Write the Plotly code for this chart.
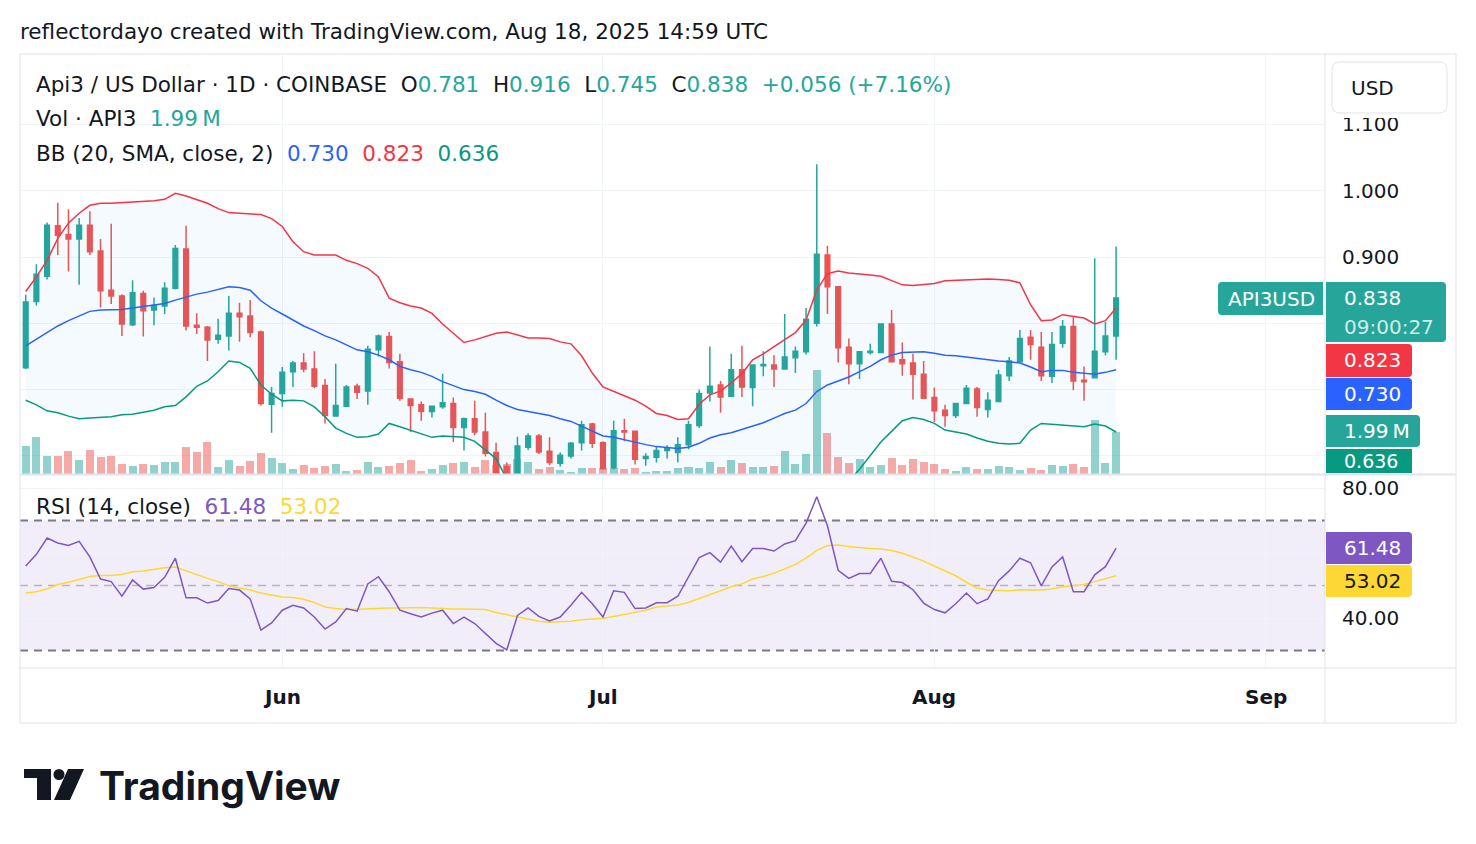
import plotly.graph_objects as go
import pandas as pd

W, H = 1476, 844
FONT = "DejaVu Sans"
TXT = "#131722"
UP, DN = "#26a69a", "#ef5350"

# ---------------- data ----------------
dates = pd.date_range("2025-05-08", "2025-08-18", freq="D").strftime("%Y-%m-%d").tolist()

opens = [0.733, 0.833, 0.871, 0.947, 0.934, 0.927, 0.948, 0.909, 0.850, 0.841,
         0.798, 0.845, 0.820, 0.826, 0.853, 0.912, 0.797, 0.794, 0.776, 0.781,
         0.815, 0.811, 0.787, 0.678, 0.694, 0.727, 0.740, 0.731, 0.706, 0.660,
         0.675, 0.705, 0.698, 0.760, 0.780, 0.742, 0.686, 0.677, 0.667, 0.674,
         0.679, 0.643, 0.656, 0.636, 0.605, 0.584, 0.566, 0.613, 0.630, 0.607,
         0.589, 0.600, 0.620, 0.648, 0.620, 0.582, 0.638, 0.637, 0.596, 0.598,
         0.608, 0.605, 0.617, 0.646, 0.695, 0.707, 0.690, 0.730, 0.703, 0.736,
         0.737, 0.731, 0.748, 0.757, 0.800, 0.903, 0.855, 0.764, 0.739, 0.756,
         0.756, 0.799, 0.745, 0.740, 0.723, 0.688, 0.669, 0.661, 0.679, 0.701,
         0.670, 0.682, 0.721, 0.742, 0.779, 0.764, 0.720, 0.770, 0.795, 0.714,
         0.718, 0.757, 0.781]
highs = [0.843, 0.889, 0.952, 0.982, 0.972, 0.959, 0.969, 0.927, 0.950, 0.844,
         0.865, 0.849, 0.839, 0.862, 0.918, 0.947, 0.815, 0.796, 0.807, 0.841,
         0.831, 0.835, 0.789, 0.704, 0.734, 0.743, 0.755, 0.758, 0.716, 0.739,
         0.707, 0.709, 0.766, 0.783, 0.787, 0.754, 0.687, 0.682, 0.676, 0.724,
         0.688, 0.658, 0.683, 0.665, 0.620, 0.590, 0.629, 0.634, 0.633, 0.628,
         0.605, 0.621, 0.653, 0.650, 0.622, 0.653, 0.656, 0.638, 0.604, 0.614,
         0.616, 0.628, 0.653, 0.700, 0.765, 0.713, 0.754, 0.766, 0.737, 0.758,
         0.752, 0.814, 0.765, 0.823, 1.040, 0.917, 0.856, 0.777, 0.758, 0.769,
         0.799, 0.820, 0.771, 0.754, 0.743, 0.703, 0.677, 0.680, 0.707, 0.704,
         0.696, 0.730, 0.749, 0.790, 0.790, 0.787, 0.787, 0.805, 0.809, 0.735,
         0.898, 0.802, 0.916]
lows = [0.731, 0.827, 0.866, 0.903, 0.878, 0.858, 0.903, 0.824, 0.829, 0.781,
        0.796, 0.780, 0.797, 0.814, 0.851, 0.789, 0.784, 0.743, 0.769, 0.759,
        0.772, 0.779, 0.676, 0.635, 0.674, 0.704, 0.726, 0.702, 0.649, 0.659,
        0.674, 0.686, 0.677, 0.750, 0.732, 0.683, 0.636, 0.653, 0.658, 0.671,
        0.621, 0.608, 0.631, 0.599, 0.572, 0.556, 0.560, 0.609, 0.603, 0.586,
        0.584, 0.596, 0.608, 0.612, 0.579, 0.580, 0.622, 0.587, 0.585, 0.590,
        0.596, 0.590, 0.610, 0.642, 0.682, 0.665, 0.689, 0.689, 0.675, 0.720,
        0.704, 0.730, 0.725, 0.753, 0.795, 0.814, 0.741, 0.708, 0.716, 0.753,
        0.755, 0.742, 0.721, 0.685, 0.686, 0.651, 0.644, 0.657, 0.678, 0.659,
        0.658, 0.681, 0.713, 0.742, 0.745, 0.713, 0.710, 0.763, 0.699, 0.683,
        0.717, 0.752, 0.745]
closes = [0.832, 0.874, 0.948, 0.933, 0.927, 0.948, 0.908, 0.849, 0.841, 0.799,
          0.846, 0.819, 0.827, 0.853, 0.913, 0.796, 0.794, 0.775, 0.782, 0.815,
          0.810, 0.786, 0.679, 0.694, 0.726, 0.740, 0.731, 0.705, 0.661, 0.676,
          0.704, 0.696, 0.761, 0.781, 0.741, 0.687, 0.676, 0.667, 0.675, 0.680,
          0.643, 0.656, 0.636, 0.604, 0.575, 0.566, 0.615, 0.630, 0.606, 0.590,
          0.601, 0.619, 0.647, 0.619, 0.581, 0.638, 0.636, 0.595, 0.599, 0.608,
          0.612, 0.617, 0.647, 0.694, 0.705, 0.689, 0.730, 0.704, 0.737, 0.738,
          0.731, 0.749, 0.758, 0.806, 0.904, 0.855, 0.763, 0.739, 0.757, 0.758,
          0.799, 0.742, 0.739, 0.723, 0.687, 0.668, 0.661, 0.679, 0.702, 0.673,
          0.684, 0.722, 0.743, 0.777, 0.768, 0.721, 0.768, 0.795, 0.713, 0.712,
          0.758, 0.781, 0.838]
volume_m = [1.32, 1.78, 0.87, 0.87, 1.11, 0.68, 1.16, 0.80, 0.87, 0.49,
            0.40, 0.49, 0.44, 0.59, 0.59, 1.30, 1.06, 1.54, 0.35, 0.68,
            0.40, 0.64, 1.02, 0.78, 0.54, 0.25, 0.44, 0.30, 0.40, 0.49,
            0.16, 0.21, 0.59, 0.35, 0.40, 0.54, 0.68, 0.16, 0.25, 0.44,
            0.54, 0.59, 0.35, 0.68, 0.44, 0.49, 0.73, 0.59, 0.25, 0.35,
            0.21, 0.11, 0.30, 0.30, 0.30, 0.30, 0.25, 0.30, 0.11, 0.16,
            0.16, 0.30, 0.35, 0.30, 0.59, 0.35, 0.68, 0.54, 0.35, 0.35,
            0.40, 1.11, 0.49, 0.97, 4.98, 1.97, 0.83, 0.54, 0.73, 0.35,
            0.44, 0.78, 0.44, 0.73, 0.59, 0.49, 0.22, 0.13, 0.32, 0.22,
            0.22, 0.37, 0.32, 0.18, 0.27, 0.18, 0.41, 0.37, 0.46, 0.32,
            2.56, 0.51, 1.99]
bb_upper = [0.848, 0.870, 0.895, 0.928, 0.951, 0.966, 0.978, 0.981, 0.981, 0.982,
            0.983, 0.983, 0.985, 0.987, 0.996, 0.992, 0.987, 0.981, 0.973, 0.967,
            0.966, 0.965, 0.964, 0.958, 0.946, 0.923, 0.908, 0.903, 0.903, 0.903,
            0.895, 0.890, 0.883, 0.870, 0.838, 0.831, 0.826, 0.823, 0.815, 0.799,
            0.785, 0.771, 0.775, 0.780, 0.785, 0.787, 0.782, 0.778, 0.778, 0.777,
            0.772, 0.769, 0.751, 0.725, 0.704, 0.697, 0.690, 0.684, 0.675, 0.664,
            0.661, 0.655, 0.656, 0.678, 0.692, 0.698, 0.710, 0.724, 0.745, 0.754,
            0.765, 0.776, 0.786, 0.805, 0.850, 0.875, 0.879, 0.876, 0.875, 0.873,
            0.871, 0.865, 0.858, 0.857, 0.858, 0.860, 0.864, 0.865, 0.866, 0.867,
            0.867, 0.866, 0.865, 0.861, 0.828, 0.804, 0.805, 0.813, 0.811, 0.808,
            0.799, 0.804, 0.823]
bb_basis = [0.766, 0.776, 0.785, 0.796, 0.804, 0.811, 0.818, 0.820, 0.820, 0.821,
            0.823, 0.825, 0.827, 0.830, 0.835, 0.840, 0.844, 0.847, 0.851, 0.855,
            0.854, 0.850, 0.834, 0.823, 0.814, 0.805, 0.796, 0.789, 0.781, 0.775,
            0.767, 0.760, 0.757, 0.752, 0.745, 0.735, 0.730, 0.726, 0.720, 0.712,
            0.706, 0.700, 0.697, 0.693, 0.684, 0.676, 0.670, 0.667, 0.664, 0.661,
            0.656, 0.652, 0.645, 0.638, 0.630, 0.628, 0.624, 0.621, 0.617, 0.614,
            0.612, 0.611, 0.613, 0.619, 0.627, 0.632, 0.635, 0.640, 0.644, 0.650,
            0.657, 0.664, 0.669, 0.679, 0.697, 0.707, 0.713, 0.719, 0.727, 0.735,
            0.745, 0.752, 0.756, 0.757, 0.757, 0.755, 0.752, 0.751, 0.749, 0.747,
            0.744, 0.743, 0.742, 0.740, 0.734, 0.727, 0.729, 0.729, 0.726, 0.725,
            0.723, 0.726, 0.730]
bb_lower = [0.684, 0.677, 0.668, 0.665, 0.660, 0.656, 0.657, 0.658, 0.659, 0.662,
            0.663, 0.666, 0.669, 0.674, 0.676, 0.689, 0.705, 0.713, 0.727, 0.743,
            0.741, 0.732, 0.707, 0.693, 0.683, 0.684, 0.683, 0.674, 0.659, 0.642,
            0.634, 0.628, 0.629, 0.633, 0.649, 0.644, 0.639, 0.633, 0.628, 0.630,
            0.629, 0.628, 0.622, 0.609, 0.596, 0.565, 0.558, 0.556, 0.550, 0.545,
            0.540, 0.535, 0.539, 0.551, 0.556, 0.559, 0.558, 0.558, 0.559, 0.564,
            0.563, 0.567, 0.570, 0.560, 0.562, 0.566, 0.560, 0.556, 0.543, 0.546,
            0.549, 0.552, 0.552, 0.553, 0.544, 0.539, 0.547, 0.562, 0.580, 0.601,
            0.621, 0.637, 0.653, 0.658, 0.655, 0.649, 0.639, 0.636, 0.633, 0.627,
            0.622, 0.619, 0.618, 0.619, 0.639, 0.649, 0.648, 0.647, 0.645, 0.644,
            0.648, 0.645, 0.636]
rsi = [56.0, 59.6, 64.6, 63.1, 62.3, 63.6, 58.8, 52.0, 51.2, 46.7,
       51.7, 48.9, 49.4, 52.5, 58.4, 46.2, 46.2, 44.6, 45.4, 49.1,
       48.6, 45.9, 36.3, 38.5, 42.4, 43.9, 43.1, 40.3, 36.6, 38.8,
       42.9, 42.1, 50.5, 52.7, 48.1, 42.4, 41.3, 40.3, 41.5, 42.4,
       38.3, 40.3, 38.3, 35.3, 32.2, 30.2, 40.8, 43.1, 40.5, 39.1,
       40.3, 43.9, 47.9, 44.4, 40.3, 48.4, 47.9, 42.9, 43.1, 44.7,
       44.7, 46.7, 52.5, 58.6, 60.1, 57.2, 62.1, 57.3, 61.4, 61.4,
       60.6, 62.8, 63.8, 69.2, 77.3, 68.4, 54.7, 52.2, 53.7, 53.7,
       58.4, 51.3, 50.9, 48.7, 44.6, 42.6, 41.6, 44.4, 47.7, 44.4,
       45.9, 51.5, 54.5, 58.4, 57.0, 49.9, 55.7, 58.8, 48.1, 48.1,
       53.3, 55.8, 61.48]
rsi_ma = [47.7, 48.1, 48.9, 50.3, 51.0, 52.0, 52.8, 53.1, 53.1, 53.4,
          54.2, 54.5, 55.0, 55.5, 55.7, 54.5, 53.2, 52.2, 51.2, 49.9,
          49.2, 48.6, 47.7, 47.1, 46.5, 46.3, 45.8, 44.8, 43.4, 42.9,
          42.6, 42.7, 42.9, 43.1, 43.1, 43.1, 43.2, 43.2, 43.1, 42.9,
          42.8, 42.8, 42.8, 42.6, 41.7, 41.0, 40.3, 39.5, 39.0, 38.7,
          38.8, 39.0, 39.5, 39.7, 39.9, 40.5, 41.1, 41.7, 42.4, 43.4,
          43.7, 44.0, 44.8, 46.0, 47.4, 48.6, 49.6, 50.5, 52.0, 52.8,
          53.8, 55.1, 56.5, 58.4, 60.8, 62.3, 62.5, 62.0, 61.6, 61.4,
          61.2, 60.8, 59.9, 58.8, 57.5, 56.0, 54.5, 53.0, 51.0, 49.2,
          48.6, 48.4, 48.4, 48.7, 48.7, 48.6, 48.9, 49.6, 49.9, 50.3,
          51.2, 52.0, 53.02]

month_ticks = ["2025-06-01", "2025-07-01", "2025-08-01", "2025-09-01"]
month_labels = ["Jun", "Jul", "Aug", "Sep"]
price_ticks = [0.6, 0.7, 0.8, 0.9, 1.0, 1.1]
price_tick_text = ["", "", "", "0.900", "1.000", "1.100"]
rsi_ticks = [40, 60, 80]
rsi_tick_text = ["40.00", "", "80.00"]

# ---------------- layout geometry (pixels) ----------------
def px(x):
    return x / W

def py(y):
    return 1 - y / H

PL, PR = 20, 1325          # plot left / right
P_TOP, P_BOT = 54, 474     # price pane
R_TOP, R_BOT = 474, 668    # rsi pane
X_RANGE = ["2025-05-07 11:12", "2025-09-06 13:00"]
PRICE_RANGE = [0.5727, 1.2062]
VOL_RANGE = [0, 20.04]
RSI_RANGE = [24.62, 84.31]

vol_colors = ["rgba(38,166,154,0.5)" if c >= o else "rgba(239,83,80,0.5)"
              for o, c in zip(opens, closes)]

fig = go.Figure()

# volume (base axis y, drawn underneath)
fig.add_trace(go.Bar(x=dates, y=volume_m, marker=dict(color=vol_colors, line=dict(width=0)),
                     width=0.75 * 86400000, xaxis="x", yaxis="y", hoverinfo="skip",
                     showlegend=False))

# Bollinger bands (price axis y3)
fig.add_trace(go.Scatter(x=dates, y=bb_upper, mode="lines", line=dict(color="#F23645", width=1.5),
                         xaxis="x", yaxis="y3", hoverinfo="skip", showlegend=False))
fig.add_trace(go.Scatter(x=dates, y=bb_lower, mode="lines", line=dict(color="#089981", width=1.5),
                         fill="tonexty", fillcolor="rgba(33,150,243,0.05)",
                         xaxis="x", yaxis="y3", hoverinfo="skip", showlegend=False))
fig.add_trace(go.Scatter(x=dates, y=bb_basis, mode="lines", line=dict(color="#2962FF", width=1.5),
                         xaxis="x", yaxis="y3", hoverinfo="skip", showlegend=False))

# candles
fig.add_trace(go.Candlestick(x=dates, open=opens, high=highs, low=lows, close=closes,
                             increasing=dict(line=dict(color=UP, width=1.5), fillcolor=UP),
                             decreasing=dict(line=dict(color=DN, width=1.5), fillcolor=DN),
                             whiskerwidth=0, xaxis="x", yaxis="y3", hoverinfo="skip",
                             showlegend=False))

# RSI
fig.add_trace(go.Scatter(x=dates, y=rsi_ma, mode="lines", line=dict(color="#FDD835", width=1.5),
                         xaxis="x2", yaxis="y2", hoverinfo="skip", showlegend=False))
fig.add_trace(go.Scatter(x=dates, y=rsi, mode="lines", line=dict(color="#7E57C2", width=1.5),
                         xaxis="x2", yaxis="y2", hoverinfo="skip", showlegend=False))

grid = "#f0f3fa"
axis_font = dict(family=FONT, size=20, color=TXT)
xcommon = dict(type="date", domain=[px(PL), px(PR)], range=X_RANGE, tickvals=month_ticks,
               showticklabels=False, showgrid=True, gridcolor=grid, gridwidth=1, ticks="",
               showline=False, zeroline=False, fixedrange=True)

fig.update_layout(
    width=W, height=H, margin=dict(l=0, r=0, t=0, b=0),
    paper_bgcolor="white", plot_bgcolor="white", showlegend=False,
    boxgap=0.38, bargap=0,
    xaxis=dict(anchor="y", rangeslider=dict(visible=False), **xcommon),
    xaxis2=dict(anchor="y2", **xcommon),
    yaxis=dict(domain=[py(P_BOT), py(P_TOP)], range=VOL_RANGE, visible=False,
               showgrid=False, anchor="x", fixedrange=True),
    yaxis3=dict(overlaying="y", anchor="x", side="right", range=PRICE_RANGE,
                tickvals=price_ticks, ticktext=price_tick_text, showgrid=True,
                gridcolor=grid, zeroline=False, ticks="", ticklabelstandoff=16,
                tickfont=axis_font, showline=False, fixedrange=True),
    yaxis2=dict(domain=[py(R_BOT), py(R_TOP)], anchor="x2", side="right", range=RSI_RANGE,
                tickvals=rsi_ticks, ticktext=rsi_tick_text, showgrid=True, gridcolor=grid,
                zeroline=False, ticks="", ticklabelstandoff=16, tickfont=axis_font,
                showline=False, fixedrange=True),
)

shapes = []
# RSI band and levels
shapes.append(dict(type="rect", xref="x2 domain", yref="y2", x0=0, x1=1, y0=30, y1=70,
                   fillcolor="rgba(126,87,194,0.1)", line=dict(width=0), layer="below"))
for lvl, col, w in [(70, "#787b86", 2), (50, "rgba(120,123,134,0.5)", 1.5), (30, "#787b86", 2)]:
    shapes.append(dict(type="line", xref="x2 domain", yref="y2", x0=0, x1=1, y0=lvl, y1=lvl,
                       line=dict(color=col, width=w, dash="8px,6px"), layer="below"))

border = "#e0e3eb"

def hline(y, x0, x1, w=1, col=border):
    return dict(type="line", xref="paper", yref="paper", x0=px(x0), x1=px(x1), y0=py(y), y1=py(y),
                line=dict(color=col, width=w), layer="above")

def vline(x, y0, y1, w=1, col=border):
    return dict(type="line", xref="paper", yref="paper", x0=px(x), x1=px(x), y0=py(y0), y1=py(y1),
                line=dict(color=col, width=w), layer="above")

shapes += [hline(54, 20, 1456), hline(723, 20, 1456), vline(20, 54, 723), vline(1456, 54, 723),
           vline(1325, 54, 723), hline(474.5, 20, 1456, 2), hline(668, 20, 1456)]


def rr_path(x0, y0, x1, y1, rl=0, rr=0):
    def P(x, y):
        return f"{x / W:.6f},{1 - y / H:.6f}"
    s = [f"M{P(x0 + rl, y0)}", f"L{P(x1 - rr, y0)}"]
    if rr:
        s.append(f"Q{P(x1, y0)} {P(x1, y0 + rr)}")
    s.append(f"L{P(x1, y1 - rr)}")
    if rr:
        s.append(f"Q{P(x1, y1)} {P(x1 - rr, y1)}")
    s.append(f"L{P(x0 + rl, y1)}")
    if rl:
        s.append(f"Q{P(x0, y1)} {P(x0, y1 - rl)}")
    s.append(f"L{P(x0, y0 + rl)}")
    if rl:
        s.append(f"Q{P(x0, y0)} {P(x0 + rl, y0)}")
    s.append("Z")
    return " ".join(s)


def tag(x0, y0, x1, y1, color, rl=0, rr=4, line=None):
    d = dict(type="path", xref="paper", yref="paper", path=rr_path(x0, y0, x1, y1, rl, rr),
             fillcolor=color, line=dict(width=0), layer="above")
    if line:
        d["line"] = dict(color=line, width=1)
    return d

shapes += [
    dict(type="rect", xref="paper", yref="paper", x0=px(1328), x1=px(1452), y0=py(118), y1=py(60),
         fillcolor="white", line=dict(width=0), layer="above"),
    tag(1332, 62, 1447, 113, "white", rl=8, rr=8, line=border),
    tag(1218, 282, 1323, 315, "#26a69a", rl=4, rr=0),
    tag(1326, 282, 1446, 342, "#26a69a"),
    tag(1326, 344, 1412, 377, "#F23645"),
    tag(1326, 378, 1412, 410, "#2962FF"),
    tag(1326, 415, 1420, 447, "#26a69a"),
    tag(1326, 449, 1412, 473, "#089981", rr=0),
    tag(1326, 532, 1412, 564, "#7E57C2"),
    tag(1326, 565, 1412, 597, "#FDD835"),
]

# TradingView logo mark
LOGO = "#131722"
shapes += [
    dict(type="rect", xref="paper", yref="paper", x0=px(24), x1=px(51), y0=py(778), y1=py(769),
         fillcolor=LOGO, line=dict(width=0), layer="above"),
    dict(type="rect", xref="paper", yref="paper", x0=px(37), x1=px(51), y0=py(800), y1=py(769),
         fillcolor=LOGO, line=dict(width=0), layer="above"),
    dict(type="circle", xref="paper", yref="paper", x0=px(53.5), x1=px(64.5), y0=py(780), y1=py(769),
         fillcolor=LOGO, line=dict(width=0), layer="above"),
    dict(type="path", xref="paper", yref="paper",
         path=f"M{px(68):.6f},{py(769):.6f} L{px(84):.6f},{py(769):.6f} "
              f"L{px(70):.6f},{py(800):.6f} L{px(54):.6f},{py(800):.6f} Z",
         fillcolor=LOGO, line=dict(width=0), layer="above"),
]

fig.update_layout(shapes=shapes)

ann = []

def text(x, y, s, size=20, color=TXT, anchor="left", weight=None, family=FONT, xref="paper"):
    f = dict(family=family, size=size, color=color)
    if weight:
        f["weight"] = weight
    ann.append(dict(x=px(x) if xref == "paper" else x, y=py(y), xref=xref, yref="paper", text=s,
                    showarrow=False, xanchor=anchor, yanchor="middle", font=f))

def c(s, col):
    return f"<span style='color:{col}'>{s}</span>"

SP = "\u00a0\u00a0"
G = "#26a69a"
LS = 21.5
text(18, 31, "reflectordayo created with TradingView.com, Aug 18, 2025 14:59 UTC", size=LS)
text(34, 85, "Api3 / US Dollar · 1D · COINBASE" + SP + "O" + c("0.781", G) + SP + "H" + c("0.916", G)
     + SP + "L" + c("0.745", G) + SP + "C" + c("0.838", G) + SP + c("+0.056 (+7.16%)", G), size=LS)
text(34, 119, "Vol · API3" + SP + c("1.99\u2009M", G), size=LS)
text(34, 153, "BB (20, SMA, close, 2)" + SP + c("0.730", "#2962FF") + SP + c("0.823", "#F23645")
     + SP + c("0.636", "#089981"), size=LS)
text(34, 507, "RSI (14, close)" + SP + c("61.48", "#7E57C2") + SP + c("53.02", "#FDD835"), size=LS)

# right-side tags
text(1349, 88, "USD")
text(1271, 299, "API3USD", color="white", anchor="center")
text(1342, 298, "0.838", color="white")
text(1342, 327, "09:00:27", color="rgba(255,255,255,0.8)")
text(1342, 360, "0.823", color="white")
text(1342, 394, "0.730", color="white")
text(1342, 431, "1.99\u2009M", color="white")
text(1342, 461, "0.636", color="white", size=19)
text(1342, 548, "61.48", color="white")
text(1342, 581, "53.02", color=TXT)

# month labels on the time axis
for d, lab in zip(month_ticks, month_labels):
    text(d, 697, lab, anchor="center", weight="bold", xref="x2")

# TradingView wordmark
text(97, 785, "TradingView", size=39, weight="bold", family="Inter")

fig.update_layout(annotations=ann)
fig.write_html("out.html")
